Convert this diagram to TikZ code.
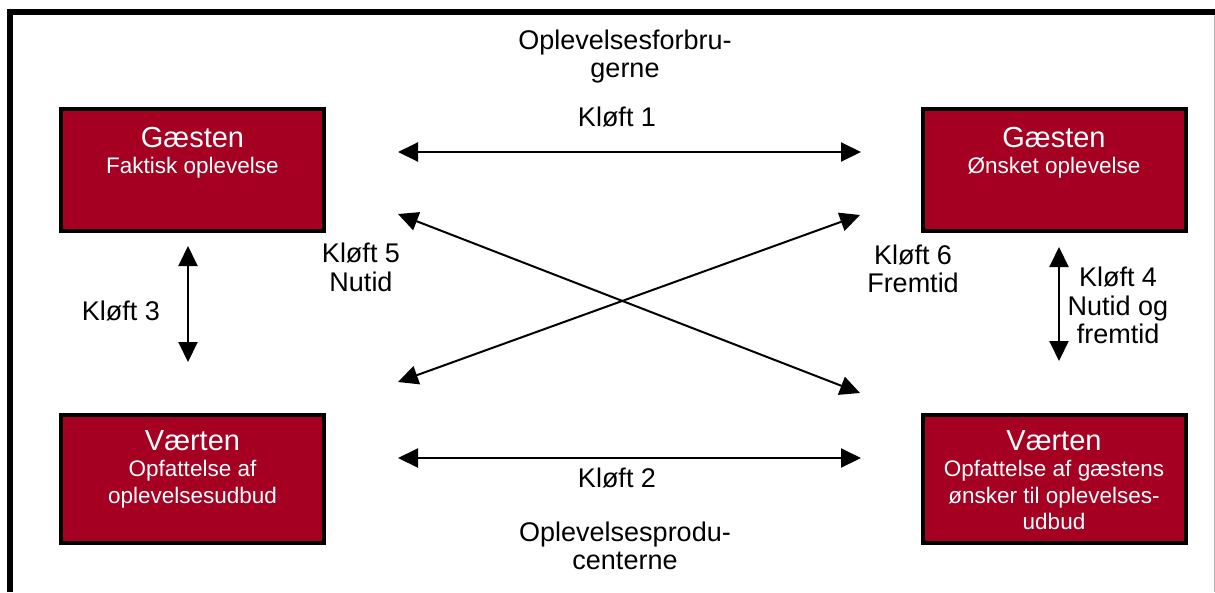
\documentclass[tikz,border=0pt]{standalone}
\usepackage{fontspec}
\setmainfont{Liberation Sans}
\usetikzlibrary{arrows.meta}
\definecolor{boxred}{RGB}{165,0,33}

\begin{document}
\begin{tikzpicture}[x=1pt,y=-1pt,
  party/.style={draw=black,line width=4pt,fill=boxred,inner sep=0pt,
    minimum width=263pt},
  title/.style={text=white,font=\fontsize{29}{33}\selectfont,anchor=base,inner sep=0pt},
  sub/.style={text=white,font=\fontsize{22.5}{26.5}\selectfont,align=center,anchor=base,inner sep=0pt},
  lbl/.style={text=black,font=\fontsize{27}{28.5}\selectfont,align=center,anchor=base,inner sep=0pt},
  gap/.style={line width=2pt,{Triangle[length=20pt,width=19pt]}-{Triangle[length=20pt,width=19pt]}}
]
\useasboundingbox (0,0) rectangle (1215,592);
\fill[white] (0,0) rectangle (1215,592);

% frame
\draw[line width=6pt] (10,592) -- (10,12) -- (1215,12);
\draw[line width=1pt,gray!60] (1214.5,15) -- (1214.5,592);

% the four parties
\node[party,minimum height=122pt] (gf) at (192.5,170) {};
\node[party,minimum height=122pt] (go) at (1054,170) {};
\node[party,minimum height=128pt] (vf) at (192.5,479) {};
\node[party,minimum height=128pt] (vo) at (1054,479) {};

% texts inside the parties (base = baseline of the last line)
\node[title] (gft) at (192.5,147) {Gæsten};
\node[sub]   (gfs) at (192.5,173) {Faktisk oplevelse};
\node[title] (got) at (1054,147) {Gæsten};
\node[sub]   (gos) at (1054,173) {Ønsket oplevelse};
\node[title] (vft) at (192.5,450) {Værten};
\node[sub]   (vfs) at (192.5,503) {Opfattelse af\\oplevelsesudbud};
\node[title] (vot) at (1054,450) {Værten};
\node[sub]   (vos) at (1054,529.5) {Opfattelse af gæstens\\ønsker til oplevelses-\\udbud};

% arrow end points
\coordinate (k1a) at (398,152);  \coordinate (k1b) at (861,152);
\coordinate (k2a) at (398,458);  \coordinate (k2b) at (861,458);
\coordinate (k3a) at (188,246);  \coordinate (k3b) at (188,362);
\coordinate (k4a) at (1059,247); \coordinate (k4b) at (1059,361);
\coordinate (k5a) at (398,214);  \coordinate (k5b) at (860,393);
\coordinate (k6a) at (398,382);  \coordinate (k6b) at (860,215);

\draw[gap] (k1a) -- (k1b);
\draw[gap] (k2a) -- (k2b);
\draw[gap] (k3a) -- (k3b);
\draw[gap] (k4a) -- (k4b);
\draw[gap] (k5a) -- (k5b);
\draw[gap] (k6a) -- (k6b);

% labels
\node[lbl] (top) at (625,77.5) {Oplevelsesforbru-\\gerne};
\node[lbl] (l1) at (617,126) {Kløft 1};
\node[lbl] (l2) at (617,487) {Kløft 2};
\node[lbl] (bot) at (625,569.5) {Oplevelsesprodu-\\centerne};
\node[lbl] (l3) at (121,320) {Kløft 3};
\node[lbl] (l4) at (1118,343.5) {Kløft 4\\Nutid og\\fremtid};
\node[lbl] (l5) at (361,291) {Kløft 5\\Nutid};
\node[lbl] (l6) at (913,292.5) {Kløft 6\\Fremtid};
\end{tikzpicture}
\end{document}
